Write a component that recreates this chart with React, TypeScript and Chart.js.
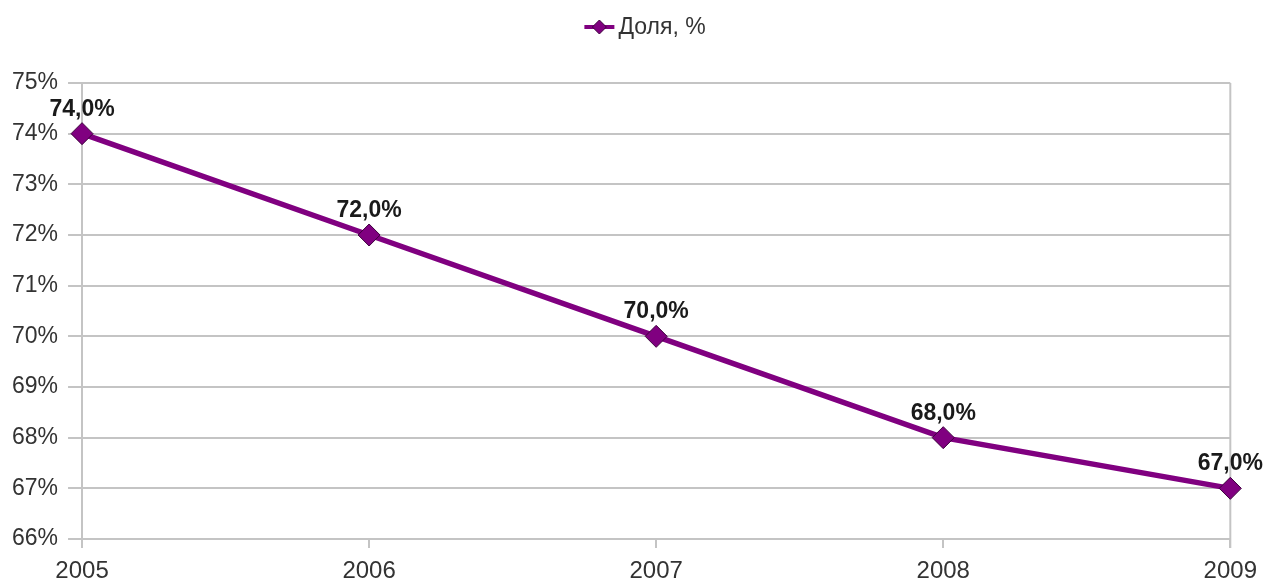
import React, { useEffect, useRef } from "react";
import { Chart, registerables } from "chart.js";

Chart.register(...registerables);

const categories = ["2005", "2006", "2007", "2008", "2009"];
const shareValues = [74.0, 72.0, 70.0, 68.0, 67.0];
const seriesName = "Доля, %";
const yMin = 66;
const yMax = 75;

const FONT = "'Liberation Sans', Arial, sans-serif";
const PURPLE = "#800080";
const PURPLE_DARK = "#3d003d";
const GRID = "#c4c4c4";
const TEXT = "#333333";

const dataLabels = {
  id: "dataLabels",
  afterDatasetsDraw(chart: any) {
    const ctx = chart.ctx;
    const meta = chart.getDatasetMeta(0);
    ctx.save();
    ctx.font = `bold 23px ${FONT}`;
    ctx.fillStyle = "#1a1a1a";
    ctx.textAlign = "center";
    ctx.textBaseline = "bottom";
    meta.data.forEach((pt: any, i: number) => {
      const v = chart.data.datasets[0].data[i] as number;
      const txt = v.toFixed(1).replace(".", ",") + "%";
      ctx.fillText(txt, pt.x, pt.y - 13);
    });
    ctx.restore();
  },
};

const rightBorder = {
  id: "rightBorder",
  beforeDatasetsDraw(chart: any) {
    const { ctx, chartArea } = chart;
    ctx.save();
    ctx.strokeStyle = GRID;
    ctx.lineWidth = 2;
    ctx.beginPath();
    ctx.moveTo(chartArea.right, chartArea.top);
    ctx.lineTo(chartArea.right, chartArea.bottom + 9);
    ctx.stroke();
    ctx.restore();
  },
};

const customLegend = {
  id: "customLegend",
  afterDraw(chart: any) {
    const ctx = chart.ctx;
    const label = chart.data.datasets[0].label as string;
    ctx.save();
    ctx.font = `23px ${FONT}`;
    const tw = ctx.measureText(label).width;
    const symW = 30;
    const gap = 4;
    const total = symW + gap + tw;
    const cx = chart.width / 2 + 13;
    const x0 = cx - total / 2;
    const y = 27;
    ctx.fillStyle = PURPLE;
    ctx.fillRect(x0, y - 2, symW, 4);
    ctx.beginPath();
    ctx.moveTo(x0 + symW / 2, y - 7);
    ctx.lineTo(x0 + symW / 2 + 7, y);
    ctx.lineTo(x0 + symW / 2, y + 7);
    ctx.lineTo(x0 + symW / 2 - 7, y);
    ctx.closePath();
    ctx.fill();
    ctx.strokeStyle = PURPLE_DARK;
    ctx.lineWidth = 1;
    ctx.stroke();
    ctx.fillStyle = TEXT;
    ctx.textAlign = "left";
    ctx.textBaseline = "middle";
    ctx.fillText(label, x0 + symW + gap, y + 1);
    ctx.restore();
  },
};

export default function App() {
  const ref = useRef<HTMLCanvasElement>(null);

  useEffect(() => {
    const chart = new Chart(ref.current!, {
      type: "line",
      data: {
        labels: categories,
        datasets: [
          {
            label: seriesName,
            data: shareValues,
            borderColor: PURPLE,
            backgroundColor: PURPLE,
            borderWidth: 5.5,
            pointStyle: "rectRot",
            pointRadius: 11,
            pointHoverRadius: 11,
            pointBackgroundColor: PURPLE,
            pointBorderColor: PURPLE_DARK,
            pointBorderWidth: 1,
            tension: 0,
          },
        ],
      },
      options: {
        animation: false,
        responsive: true,
        maintainAspectRatio: false,
        layout: { padding: { left: 2, right: 30, top: 83, bottom: -12 } },
        plugins: {
          tooltip: { enabled: false },
          legend: { display: false },
        },
        scales: {
          x: {
            type: "category",
            offset: false,
            grid: {
              display: true,
              drawOnChartArea: false,
              drawTicks: true,
              tickLength: 9,
              color: GRID,
              lineWidth: 2,
            },
            border: { display: true, color: GRID, width: 2 },
            ticks: {
              color: TEXT,
              font: { family: FONT, size: 24, lineHeight: 1.375 },
              padding: 7,
              maxRotation: 0,
            },
          },
          y: {
            min: yMin,
            max: yMax,
            grid: {
              color: GRID,
              lineWidth: 2,
              tickLength: 14,
            },
            border: { display: true, color: GRID, width: 2 },
            ticks: {
              stepSize: 1,
              color: TEXT,
              font: { family: FONT, size: 23 },
              padding: 10,
              callback: (v: any) => `${v}%`,
            },
          },
        },
      },
      plugins: [dataLabels, rightBorder, customLegend],
    });
    return () => chart.destroy();
  }, []);

  return (
    <div style={{ position: "absolute", left: 0, top: 0, width: 1264, height: 583, background: "#fff" }}>
      <canvas ref={ref} />
    </div>
  );
}
